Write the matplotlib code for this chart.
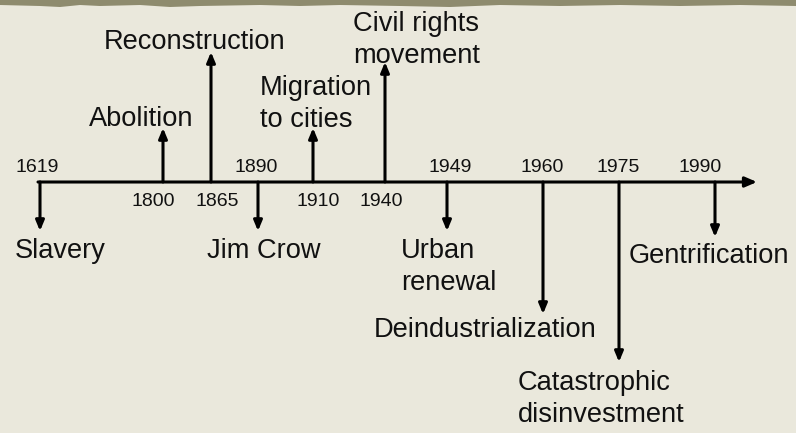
import matplotlib
matplotlib.use("Agg")
import matplotlib.pyplot as plt

# events on the timeline
years = ["1619", "1800", "1865", "1890", "1910", "1940", "1949", "1960", "1975", "1990"]
labels = ["Slavery", "Abolition", "Reconstruction", "Jim Crow", "Migration\nto cities",
          "Civil rights\nmovement", "Urban\nrenewal", "Deindustrialization",
          "Catastrophic\ndisinvestment", "Gentrification"]
direction = ["down", "up", "up", "down", "up", "up", "down", "down", "down", "down"]

# layout (pixels on the 796x433 canvas)
x_pos = [40, 163, 211, 258, 313, 385, 447, 543, 619, 715]
tip_y = [231, 128, 52, 231, 128, 62, 231, 314, 362, 237]
year_side = ["above", "below", "below", "above", "below", "below", "above", "above", "above", "above"]
year_x = [37, 153, 217, 256, 318, 381, 450, 542, 618, 700]
label_x = [15, 141, 195, 264, 260, 353, 401, 485, 518, 709]
label_base = [258, 126, 49, 258, 127, 63, 290, 337, 422, 263]
label_ha = ["left", "center", "center", "center", "left", "left", "left", "center", "left", "center"]

axis_y = 182
bg = "#eae8dc"

plt.rcParams['font.family'] = ['Liberation Sans', 'DejaVu Sans']

fig = plt.figure(figsize=(7.96, 4.33), dpi=100)
fig.patch.set_facecolor(bg)
ax = fig.add_axes([0, 0, 1, 1])
ax.set_xlim(0, 796)
ax.set_ylim(433, 0)
ax.axis("off")
ax.set_facecolor(bg)

# torn paper strip at the top
edge_x = [0, 40, 60, 80, 100, 140, 170, 200, 260, 300, 340, 400, 450, 500, 560, 620, 680, 740, 796]
edge_y = [5, 6, 7, 5, 6, 5, 7, 6, 5, 6, 5, 6, 7, 5, 6, 5, 6, 5, 6]
ax.fill_between(edge_x, 0, edge_y, color="#8e8b6e", lw=0)

# main arrow
ax.annotate("", xy=(757, axis_y), xytext=(38, axis_y),
            arrowprops=dict(arrowstyle="-|>,head_length=0.7,head_width=0.3",
                            lw=2.2, color="black", shrinkA=0, shrinkB=0))

for i in range(len(years)):
    ax.annotate("", xy=(x_pos[i], tip_y[i]), xytext=(x_pos[i], axis_y),
                arrowprops=dict(arrowstyle="-|>,head_length=0.6,head_width=0.25",
                                lw=2.2, color="black", shrinkA=0, shrinkB=0))
    yy = 168 if year_side[i] == "above" else 201
    ax.text(year_x[i], yy, years[i], ha="center", va="center", fontsize=14, color="#111111")
    ax.text(label_x[i], label_base[i], labels[i], ha=label_ha[i], va="baseline",
            fontsize=19.6, linespacing=1.3, color="#111111", multialignment="left")

fig.savefig("out.png", dpi=100, facecolor=bg)
